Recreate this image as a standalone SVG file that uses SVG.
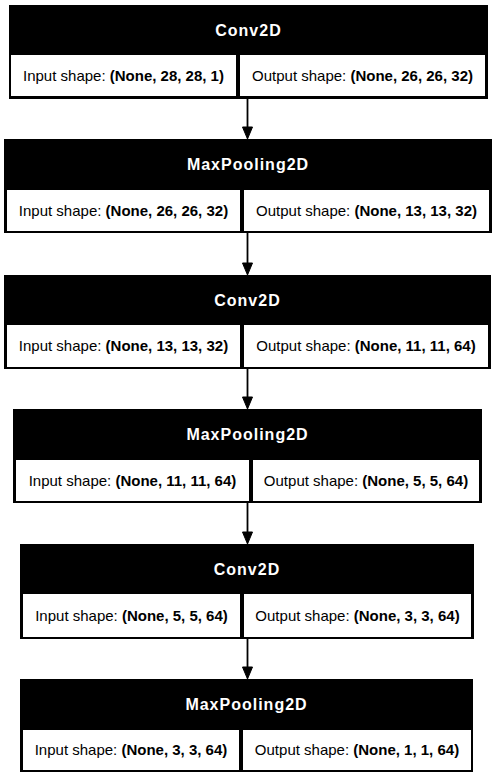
<svg xmlns="http://www.w3.org/2000/svg" width="495" height="779" viewBox="0 0 495 779">
<style>
.frame{fill:#000;stroke:#000;stroke-width:1}
.cell{fill:#fff}
.hdr{font-family:"Liberation Sans",Arial,sans-serif;font-weight:bold;font-size:16px;letter-spacing:1px;fill:#fff;text-anchor:middle}
.txt{font-family:"Liberation Sans",Arial,sans-serif;font-size:15px;fill:#000;text-anchor:middle}
.b{font-weight:bold}
.edge{stroke:#000;stroke-width:1.8;fill:none}
.head{fill:#000;stroke:#000;stroke-width:1}
</style>
<g id="connectors">
<line class="edge" x1="247.5" y1="98" x2="247.5" y2="128"/><polygon class="head" points="242.5,127 252.5,127 247.5,139"/>
<line class="edge" x1="247.5" y1="233" x2="247.5" y2="264"/><polygon class="head" points="242.5,263 252.5,263 247.5,275"/>
<line class="edge" x1="247.5" y1="369" x2="247.5" y2="398"/><polygon class="head" points="242.5,397 252.5,397 247.5,409"/>
<line class="edge" x1="247.5" y1="503" x2="247.5" y2="533"/><polygon class="head" points="242.5,532 252.5,532 247.5,544"/>
<line class="edge" x1="247.5" y1="639" x2="247.5" y2="668"/><polygon class="head" points="242.5,667 252.5,667 247.5,679"/>
</g>
<g id="node1">
<rect class="frame" x="9.5" y="5.5" width="478" height="93"/>
<rect class="cell" x="11" y="55" width="225" height="41"/>
<rect class="cell" x="240" y="55" width="245" height="41"/>
<text class="hdr" x="248.5" y="36">Conv2D</text>
<text class="txt" x="123.5" y="81">Input shape: <tspan class="b">(None, 28, 28, 1)</tspan></text>
<text class="txt" x="362.5" y="81">Output shape: <tspan class="b">(None, 26, 26, 32)</tspan></text>
</g>
<g id="node2">
<rect class="frame" x="4.5" y="139.5" width="487" height="93"/>
<rect class="cell" x="7" y="190" width="233" height="41"/>
<rect class="cell" x="244" y="190" width="245" height="41"/>
<text class="hdr" x="248" y="170">MaxPooling2D</text>
<text class="txt" x="123.5" y="216">Input shape: <tspan class="b">(None, 26, 26, 32)</tspan></text>
<text class="txt" x="366.5" y="216">Output shape: <tspan class="b">(None, 13, 13, 32)</tspan></text>
</g>
<g id="node3">
<rect class="frame" x="4.5" y="275.5" width="486" height="93"/>
<rect class="cell" x="7" y="325" width="233" height="42"/>
<rect class="cell" x="244" y="325" width="244" height="42"/>
<text class="hdr" x="247.5" y="306">Conv2D</text>
<text class="txt" x="123.5" y="351">Input shape: <tspan class="b">(None, 13, 13, 32)</tspan></text>
<text class="txt" x="366" y="351">Output shape: <tspan class="b">(None, 11, 11, 64)</tspan></text>
</g>
<g id="node4">
<rect class="frame" x="13.5" y="409.5" width="468" height="93"/>
<rect class="cell" x="16" y="460" width="233" height="41"/>
<rect class="cell" x="253" y="460" width="226" height="41"/>
<text class="hdr" x="247.5" y="440">MaxPooling2D</text>
<text class="txt" x="132.5" y="486">Input shape: <tspan class="b">(None, 11, 11, 64)</tspan></text>
<text class="txt" x="366" y="486">Output shape: <tspan class="b">(None, 5, 5, 64)</tspan></text>
</g>
<g id="node5">
<rect class="frame" x="20.5" y="544.5" width="453" height="94"/>
<rect class="cell" x="23" y="594" width="217" height="43"/>
<rect class="cell" x="244" y="594" width="227" height="43"/>
<text class="hdr" x="247" y="575">Conv2D</text>
<text class="txt" x="131.5" y="621">Input shape: <tspan class="b">(None, 5, 5, 64)</tspan></text>
<text class="txt" x="357.5" y="621">Output shape: <tspan class="b">(None, 3, 3, 64)</tspan></text>
</g>
<g id="node6">
<rect class="frame" x="20.5" y="679.5" width="452" height="92"/>
<rect class="cell" x="23" y="730" width="216" height="40"/>
<rect class="cell" x="243" y="730" width="228" height="40"/>
<text class="hdr" x="246.5" y="710">MaxPooling2D</text>
<text class="txt" x="131" y="755">Input shape: <tspan class="b">(None, 3, 3, 64)</tspan></text>
<text class="txt" x="357" y="755">Output shape: <tspan class="b">(None, 1, 1, 64)</tspan></text>
</g>
</svg>
